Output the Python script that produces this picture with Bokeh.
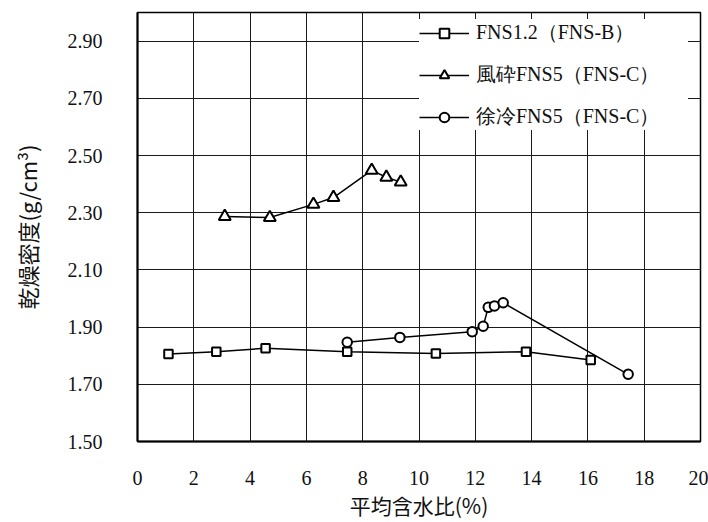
from bokeh.plotting import figure
from bokeh.models import FixedTicker, Legend, LegendItem
from bokeh.embed import file_html
from bokeh.resources import INLINE

# 平均含水比 (%) / 乾燥密度 (g/cm3)
fns12_water = [1.1, 2.8, 4.55, 7.45, 10.6, 13.8, 16.1]
fns12_density = [1.806, 1.814, 1.826, 1.814, 1.808, 1.814, 1.785]

air_fns5_water = [3.1, 4.7, 6.25, 6.96, 8.32, 8.84, 9.35]
air_fns5_density = [2.287, 2.283, 2.329, 2.353, 2.448, 2.424, 2.407]

slow_fns5_water = [7.45, 9.32, 11.89, 12.28, 12.46, 12.68, 12.99, 17.43]
slow_fns5_density = [1.847, 1.864, 1.884, 1.903, 1.969, 1.974, 1.985, 1.735]

series_names = ["FNS1.2（FNS-B）", "風砕FNS5（FNS-C）", "徐冷FNS5（FNS-C）"]

x_ticks = [0, 2, 4, 6, 8, 10, 12, 14, 16, 18, 20]
y_ticks = [1.5, 1.7, 1.9, 2.1, 2.3, 2.5, 2.7, 2.9]
y_tick_labels = ["1.50", "1.70", "1.90", "2.10", "2.30", "2.50", "2.70", "2.90"]

x_title = "平均含水比(%)"
y_title = "乾燥密度(g/cm³)"

SERIF = "Liberation Serif"
JP = "Noto Sans CJK JP"

p = figure(
    width=708, height=522,
    x_range=(0, 20), y_range=(1.5, 3.0),
    output_backend="svg", toolbar_location=None,
    min_border_left=137, min_border_right=8,
    min_border_top=12, min_border_bottom=80,
    background_fill_color="white", border_fill_color="white",
)

p.outline_line_color = "black"
p.outline_line_width = 1.5
p.outline_line_alpha = 1

# axes
p.xaxis.ticker = FixedTicker(ticks=x_ticks)
p.yaxis.ticker = FixedTicker(ticks=y_ticks)
p.yaxis.major_label_overrides = {t: s for t, s in zip(y_ticks, y_tick_labels)}
for ax in (p.xaxis, p.yaxis):
    ax.axis_line_color = "black"
    ax.axis_line_width = 2
    ax.major_tick_in = 0
    ax.major_tick_out = 0
    ax.minor_tick_line_color = None
    ax.major_label_text_font = SERIF
    ax.major_label_text_font_size = "20px"
    ax.major_label_text_color = "#111111"
    ax.axis_label_text_font = JP
    ax.axis_label_text_font_style = "normal"
    ax.axis_label_text_color = "#111111"

p.xaxis.axis_label = x_title
p.yaxis.axis_label = y_title
p.xaxis.axis_label_text_font_size = "21px"
p.yaxis.axis_label_text_font_size = "22px"
p.xaxis.major_label_standoff = 29
p.xaxis.axis_label_standoff = 2
p.yaxis.major_label_standoff = 35
p.yaxis.axis_label_standoff = 22

# grid
p.xgrid.ticker = FixedTicker(ticks=x_ticks)
p.ygrid.ticker = FixedTicker(ticks=y_ticks)
for g in (p.xgrid, p.ygrid):
    g.grid_line_color = "#1a1a1a"
    g.grid_line_width = 1
    g.grid_line_alpha = 1

# series: connecting line plus open markers
items = []
specs = [
    (fns12_water, fns12_density, "square", 8.5),
    (air_fns5_water, air_fns5_density, "triangle", 12),
    (slow_fns5_water, slow_fns5_density, "circle", 9.5),
]
for name, (xs, ys, marker, size) in zip(series_names, specs):
    ln = p.line(xs, ys, line_color="black", line_width=1.5)
    sc = p.scatter(xs, ys, marker=marker, size=size, fill_color="white",
                   line_color="black", line_width=2)
    items.append(LegendItem(label=name, renderers=[ln, sc]))

# legend box pinned inside the upper right of the frame (screen units)
legend = Legend(
    items=items,
    location=(282, 311),
    margin=0,
    padding=5,
    spacing=15,
    glyph_width=50,
    glyph_height=24,
    label_height=24,
    label_width=212,
    label_standoff=7,
    label_text_font=SERIF,
    label_text_font_size="20px",
    label_text_color="#111111",
    background_fill_color="white",
    background_fill_alpha=1,
    border_line_color=None,
)
p.add_layout(legend)

open("out.html", "w").write(file_html(p, INLINE))
